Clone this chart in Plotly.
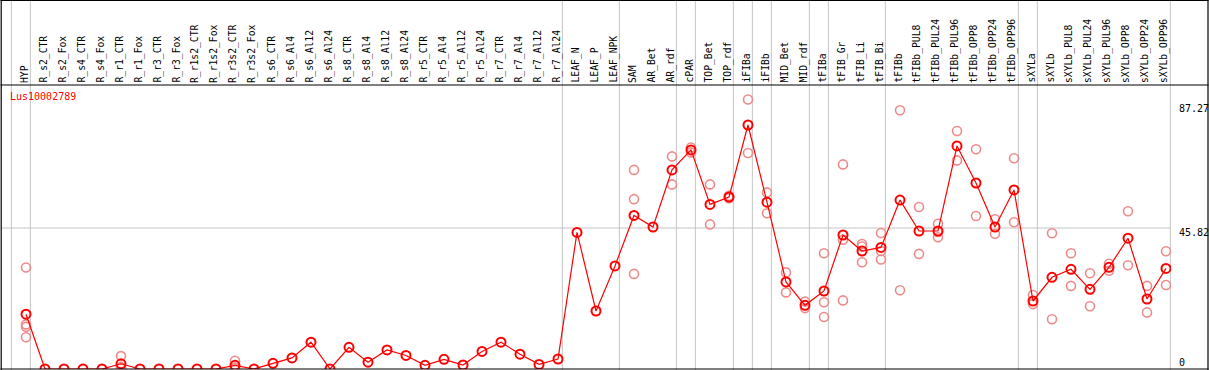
import plotly.graph_objects as go

categories = ["HYP", "R_s2_CTR", "R_s2_Fox", "R_s4_CTR", "R_s4_Fox", "R_r1_CTR", "R_r1_Fox",
              "R_r3_CTR", "R_r3_Fox", "R_r1s2_CTR", "R_r1s2_Fox", "R_r3s2_CTR", "R_r3s2_Fox",
              "R_s6_CTR", "R_s6_Al4", "R_s6_Al12", "R_s6_Al24", "R_s8_CTR", "R_s8_Al4",
              "R_s8_Al12", "R_s8_Al24", "R_r5_CTR", "R_r5_Al4", "R_r5_Al12", "R_r5_Al24",
              "R_r7_CTR", "R_r7_Al4", "R_r7_Al12", "R_r7_Al24", "LEAF_N", "LEAF_P", "LEAF_NPK",
              "SAM", "AR_Bet", "AR_rdf", "cPAR", "TOP_Bet", "TOP_rdf", "iFIBa", "iFIBb",
              "MID_Bet", "MID_rdf", "tFIBa", "tFIB_Gr", "tFIB_Li", "tFIB_Bi", "tFIBb",
              "tFIBb_PUL8", "tFIBb_PUL24", "tFIBb_PUL96", "tFIBb_OPP8", "tFIBb_OPP24",
              "tFIBb_OPP96", "sXYLa", "sXYLb", "sXYLb_PUL8", "sXYLb_PUL24", "sXYLb_PUL96",
              "sXYLb_OPP8", "sXYLb_OPP24", "sXYLb_OPP96"]

means = [17.8, 0, 0, 0, 0, 1.7, 0, 0, 0, 0, 0, 1.2, 0, 1.85, 3.6, 8.7, 0, 7.05, 2.2, 6.2,
         4.4, 1.2, 3.15, 1.3, 5.7, 8.7, 4.8, 1.5, 3.25, 44.4, 18.85, 33.5, 49.9, 46.15, 64.7,
         71.2, 53.5, 55.9, 79.3, 54.2, 28.3, 20.7, 25.35, 43.55, 38.35, 39.5, 54.9, 44.85,
         44.85, 72.5, 60.45, 46.15, 58.2, 22.1, 29.8, 32.4, 25.9, 33.05, 42.5, 22.75, 32.7]

N = None
rep_a = [33.0, N, N, N, N, 4.2, N, N, N, N, N, 2.7, N, N, N, N, N, N, N, N,
         N, N, N, N, N, N, N, N, N, N, N, N, 64.7, N, 69.1,
         72.0, 60.0, 56.3, 87.6, 57.4, 31.4, 21.9, 37.6, 66.5, 40.6, 44.2, 84.1, 52.65,
         47.2, 77.35, 71.4, 48.65, 68.5, 24.05, 44.1, 37.6, 31.1, 34.2, 51.25, 27.0, 38.25]
rep_b = [14.5, N, N, N, N, 0.6, N, N, N, N, N, 0.5, N, N, N, N, N, N, N, N,
         N, N, N, N, N, N, N, N, N, N, N, N, 55.2, N, 60.0,
         70.4, 47.0, 55.5, 70.2, 50.6, 24.9, 19.8, 21.7, 42.0, 39.8, 38.35, 25.6, 37.4,
         44.5, 67.8, 49.7, 43.97, 47.7, 21.1, 16.15, 27.0, 20.4, 31.95, 33.7, 18.4, 27.3]
rep_c = [13.7, N, N, N, N, 0.3, N, N, N, N, N, 0.4, N, N, N, N, N, N, N, N,
         N, N, N, N, N, N, N, N, N, N, N, N, 30.9, N, N,
         N, N, N, N, N, N, N, 16.9, 22.3, 34.7, 35.6, N, N,
         42.8, N, N, N, N, N, N, N, N, N, N, N, N]
rep_d = [10.3] + [N] * 60

# separators after these category indices
separators = [-1, 0, 28, 31, 34, 35, 37, 38, 39, 41, 42, 45, 52, 53, 60]

ytick_vals = [87.27, 45.82, 0]
ytick_text = ["87.27", "45.82", "0"]
gene = "Lus10002789"

RED = "#ff0000"
PINK = "#ee8a8a"
GRAY = "#c4c4c4"
MONO = "DejaVu Sans Mono"

W, H = 1209, 370
L, R, T, B = 1, 38, 85, 1
pw = W - L - R
ph = H - T - B

xs = list(range(len(categories)))

fig = go.Figure()
for reps in (rep_a, rep_b, rep_c, rep_d):
    fig.add_trace(go.Scatter(
        x=xs, y=reps, mode="markers",
        marker=dict(symbol="circle-open", size=9, color=PINK, line=dict(width=1.6, color=PINK)),
        hoverinfo="skip", showlegend=False))

fig.add_trace(go.Scatter(
    x=xs, y=means, mode="lines+markers",
    line=dict(color=RED, width=1.2),
    marker=dict(symbol="circle-open", size=9, color=RED, line=dict(width=2, color=RED)),
    showlegend=False))

def px_x(p):
    return (p - L) / pw

def px_y(p):
    return (H - B - p) / ph

shapes = []
for s in separators:
    shapes.append(dict(type="line", xref="x", yref="paper", x0=s + 0.23, x1=s + 0.23,
                       y0=px_y(H), y1=px_y(0), line=dict(color=GRAY, width=1), layer="below"))
shapes.append(dict(type="line", xref="paper", yref="y", x0=0, x1=1, y0=45.82, y1=45.82,
                   line=dict(color=GRAY, width=1), layer="below"))
# frame
frame = dict(color="black", width=1.2)
shapes += [
    dict(type="line", xref="paper", yref="paper", x0=px_x(0.5), x1=px_x(1208.5), y0=px_y(0.5), y1=px_y(0.5), line=frame),
    dict(type="line", xref="paper", yref="paper", x0=px_x(0.5), x1=px_x(1208.5), y0=px_y(85), y1=px_y(85), line=frame),
    dict(type="line", xref="paper", yref="paper", x0=px_x(0.5), x1=px_x(1208.5), y0=px_y(369), y1=px_y(369), line=frame),
    dict(type="line", xref="paper", yref="paper", x0=px_x(1.2), x1=px_x(1.2), y0=px_y(0), y1=px_y(370), line=frame),
    dict(type="line", xref="paper", yref="paper", x0=px_x(1208), x1=px_x(1208), y0=px_y(0), y1=px_y(370), line=frame),
]

annotations = []
for i, c in enumerate(categories):
    annotations.append(dict(x=i, y=1, xref="x", yref="paper", text=c, textangle=-90,
                            showarrow=False, xanchor="center", yanchor="bottom", xshift=-2, yshift=0,
                            font=dict(family=MONO, size=9.7, color="black")))
shifts = {87.27: (-1, "top"), 45.82: (3, "top"), 0: (-1, "bottom")}
for v, t in zip(ytick_vals, ytick_text):
    ys, anc = shifts[v]
    annotations.append(dict(x=px_x(1177), y=v, xref="paper", yref="y", text=t, showarrow=False,
                            xanchor="left", yanchor=anc, yshift=ys,
                            font=dict(family=MONO, size=10, color="black")))
annotations.append(dict(x=px_x(8), y=px_y(89), xref="paper", yref="paper", text=gene,
                        showarrow=False, xanchor="left", yanchor="top",
                        font=dict(family=MONO, size=10, color=RED)))

fig.update_layout(
    width=W, height=H,
    margin=dict(l=L, r=R, t=T, b=B, pad=0),
    paper_bgcolor="white", plot_bgcolor="white",
    xaxis=dict(range=[-25 / 19, 1145 / 19], visible=False, fixedrange=True),
    yaxis=dict(range=[0, 284 / 3.077], visible=False, fixedrange=True),
    shapes=shapes, annotations=annotations,
)

fig.write_html("out.html", config={"displayModeBar": False},
               post_script="document.body.style.margin='0px';document.body.style.overflow='hidden';")
